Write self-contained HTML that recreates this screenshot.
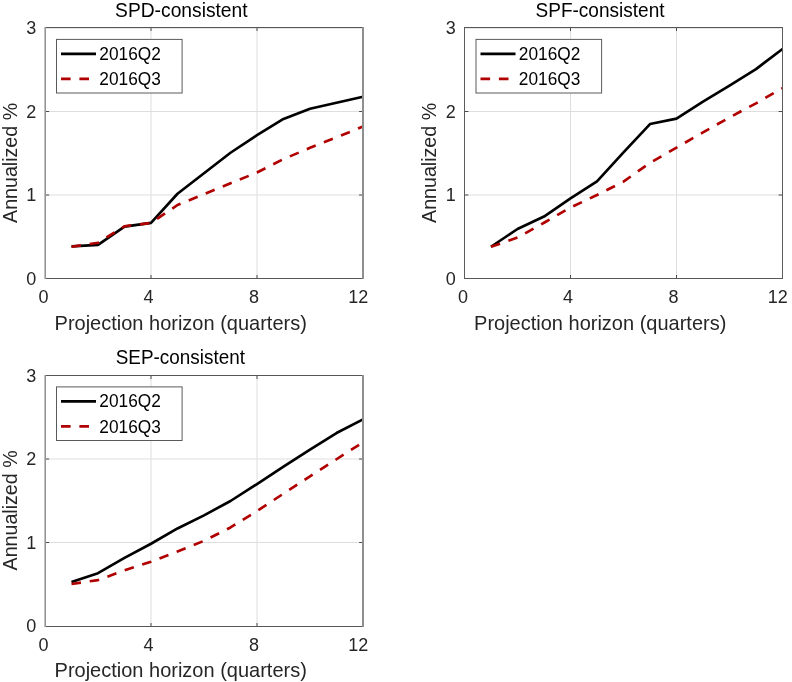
<!DOCTYPE html>
<html><head><meta charset="utf-8"><style>
html,body{margin:0;padding:0;background:#fff;width:792px;height:682px;overflow:hidden}
svg{display:block}
text{font-family:"Liberation Sans",Arial,sans-serif;fill:#262626}
.tk{font-size:18.0px}
.lb{font-size:19.8px}
.tt{font-size:20.3px;fill:#000}
.lg{font-size:18.2px;fill:#000}
</style></head><body>
<svg width="792" height="682" viewBox="0 0 792 682">
<rect width="792" height="682" fill="#fff"/>
<rect x="45" y="28" width="319" height="1" fill="#e6e6e6"/>
<path d="M151.00 28V278M257.00 28V278M45.00 195.00H363.00M45.00 111.50H363.00" stroke="#dedede" stroke-width="1" fill="none"/>
<polyline points="71.50,246.35 98.00,244.85 124.50,226.65 151.00,222.89 177.50,193.75 204.00,173.29 230.50,152.75 257.00,135.13 283.50,118.93 310.00,108.83 336.50,102.82 363.00,96.80" fill="none" stroke="#000" stroke-width="2.65" stroke-linejoin="round"/>
<polyline points="71.50,246.77 98.00,242.76 124.50,226.31 151.00,222.89 177.50,205.02 204.00,194.17 230.50,183.31 257.00,172.45 283.50,159.09 310.00,147.82 336.50,137.38 363.00,126.53" fill="none" stroke="#b00000" stroke-width="2.65" stroke-dasharray="9.6 8.8" stroke-linejoin="round"/>
<path d="M151.00 279v-4.0M151.00 27v4.0M257.00 279v-4.0M257.00 27v4.0M45.2 195.00h3.9M363.0 195.00h-3.9M45.2 111.50h3.9M363.0 111.50h-3.9" stroke="#4a4a4a" stroke-width="1" fill="none"/>
<rect x="44" y="27" width="320" height="1" fill="#575757"/>
<rect x="44" y="278" width="320" height="1" fill="#575757"/>
<rect x="44" y="27" width="1" height="252" fill="#c0c0c0"/>
<rect x="45" y="27" width="1" height="252" fill="#959595"/>
<rect x="362" y="27" width="2" height="252" fill="#8f8f8f"/>
<g transform="translate(0,0)">
<text x="43.6" y="303.0" class="tk" text-anchor="middle">0</text>
<text x="148.6" y="303.0" class="tk" text-anchor="middle">4</text>
<text x="253.9" y="303.0" class="tk" text-anchor="middle">8</text>
<text x="358.2" y="303.0" class="tk" text-anchor="middle">12</text>
<text x="36.2" y="284.90" class="tk" text-anchor="end">0</text>
<text x="36.2" y="201.05" class="tk" text-anchor="end">1</text>
<text x="36.2" y="117.85" class="tk" text-anchor="end">2</text>
<text x="36.2" y="34.15" class="tk" text-anchor="end">3</text>
<text x="180.7" y="329.5" class="lb" text-anchor="middle" textLength="252.3" lengthAdjust="spacingAndGlyphs">Projection horizon (quarters)</text>
<text transform="translate(16.7,162.9) rotate(-90)" class="lb" text-anchor="middle" textLength="120.0" lengthAdjust="spacingAndGlyphs">Annualized %</text>
<text x="181.35" y="16.8" class="tt" text-anchor="middle" textLength="132.5" lengthAdjust="spacingAndGlyphs">SPD-consistent</text>
<rect x="56.5" y="39.4" width="125.6" height="53.6" fill="#fff" stroke="#5a5a5a" stroke-width="1"/>
<path d="M61 53.8H96" stroke="#000" stroke-width="2.65"/>
<path d="M61 78.85H96" stroke="#b00000" stroke-width="2.65" stroke-dasharray="9.6 8.8"/>
<text x="99.3" y="59.7" class="lg" textLength="61.5" lengthAdjust="spacingAndGlyphs">2016Q2</text>
<text x="99.3" y="85.2" class="lg" textLength="61.5" lengthAdjust="spacingAndGlyphs">2016Q3</text>
</g>
<rect x="464" y="28" width="319" height="1" fill="#e6e6e6"/>
<path d="M570.50 28V278M676.50 28V278M464.50 195.00H782.50M464.50 111.50H782.50" stroke="#dedede" stroke-width="1" fill="none"/>
<polyline points="491.00,246.77 517.50,228.98 544.00,216.54 570.50,198.34 597.00,181.39 623.50,152.42 650.00,124.03 676.50,118.60 703.00,101.65 729.50,85.62 756.00,69.08 782.50,48.96" fill="none" stroke="#000" stroke-width="2.65" stroke-linejoin="round"/>
<polyline points="491.00,246.77 517.50,237.59 544.00,222.72 570.50,207.53 597.00,195.00 623.50,181.64 650.00,162.85 676.50,147.66 703.00,132.38 729.50,117.43 756.00,103.32 782.50,88.12" fill="none" stroke="#b00000" stroke-width="2.65" stroke-dasharray="9.6 8.8" stroke-linejoin="round"/>
<path d="M570.50 279v-4.0M570.50 27v4.0M676.50 279v-4.0M676.50 27v4.0M464.5 195.00h3.9M782.5 195.00h-3.9M464.5 111.50h3.9M782.5 111.50h-3.9" stroke="#4a4a4a" stroke-width="1" fill="none"/>
<rect x="464" y="27" width="319" height="1" fill="#575757"/>
<rect x="464" y="278" width="319" height="1" fill="#575757"/>
<rect x="464" y="27" width="1" height="252" fill="#5c5c5c"/>
<rect x="782" y="27" width="1" height="252" fill="#5c5c5c"/>
<g transform="translate(419.5,0)">
<text x="43.6" y="303.0" class="tk" text-anchor="middle">0</text>
<text x="148.6" y="303.0" class="tk" text-anchor="middle">4</text>
<text x="253.9" y="303.0" class="tk" text-anchor="middle">8</text>
<text x="358.2" y="303.0" class="tk" text-anchor="middle">12</text>
<text x="36.2" y="284.90" class="tk" text-anchor="end">0</text>
<text x="36.2" y="201.05" class="tk" text-anchor="end">1</text>
<text x="36.2" y="117.85" class="tk" text-anchor="end">2</text>
<text x="36.2" y="34.15" class="tk" text-anchor="end">3</text>
<text x="180.7" y="329.5" class="lb" text-anchor="middle" textLength="252.3" lengthAdjust="spacingAndGlyphs">Projection horizon (quarters)</text>
<text transform="translate(16.7,162.9) rotate(-90)" class="lb" text-anchor="middle" textLength="120.0" lengthAdjust="spacingAndGlyphs">Annualized %</text>
<text x="180.5" y="16.8" class="tt" text-anchor="middle" textLength="129.0" lengthAdjust="spacingAndGlyphs">SPF-consistent</text>
<rect x="56.5" y="39.4" width="125.6" height="53.6" fill="#fff" stroke="#5a5a5a" stroke-width="1"/>
<path d="M61 53.8H96" stroke="#000" stroke-width="2.65"/>
<path d="M61 78.85H96" stroke="#b00000" stroke-width="2.65" stroke-dasharray="9.6 8.8"/>
<text x="99.3" y="59.7" class="lg" textLength="61.5" lengthAdjust="spacingAndGlyphs">2016Q2</text>
<text x="99.3" y="85.2" class="lg" textLength="61.5" lengthAdjust="spacingAndGlyphs">2016Q3</text>
</g>
<path d="M151.00 376V626M257.00 376V626M45.00 542.50H363.00M45.00 459.00H363.00" stroke="#dedede" stroke-width="1" fill="none"/>
<polyline points="71.50,582.00 98.00,573.14 124.50,557.95 151.00,543.75 177.50,528.47 204.00,515.36 230.50,501.00 257.00,484.05 283.50,466.68 310.00,449.56 336.50,433.03 363.00,419.34" fill="none" stroke="#000" stroke-width="2.65" stroke-linejoin="round"/>
<polyline points="71.50,584.00 98.00,580.08 124.50,570.39 151.00,561.71 177.50,551.43 204.00,540.83 230.50,527.47 257.00,511.02 283.50,493.65 310.00,476.28 336.50,459.25 363.00,442.30" fill="none" stroke="#b00000" stroke-width="2.65" stroke-dasharray="9.6 8.8" stroke-linejoin="round"/>
<path d="M151.00 627v-4.0M151.00 375v4.0M257.00 627v-4.0M257.00 375v4.0M45.2 542.50h3.9M363.0 542.50h-3.9M45.2 459.00h3.9M363.0 459.00h-3.9" stroke="#4a4a4a" stroke-width="1" fill="none"/>
<rect x="44" y="375" width="320" height="1" fill="#575757"/>
<rect x="44" y="626" width="320" height="1" fill="#575757"/>
<rect x="44" y="375" width="1" height="252" fill="#c0c0c0"/>
<rect x="45" y="375" width="1" height="252" fill="#959595"/>
<rect x="362" y="375" width="2" height="252" fill="#8f8f8f"/>
<g transform="translate(0,347.5)">
<text x="43.6" y="303.0" class="tk" text-anchor="middle">0</text>
<text x="148.6" y="303.0" class="tk" text-anchor="middle">4</text>
<text x="253.9" y="303.0" class="tk" text-anchor="middle">8</text>
<text x="358.2" y="303.0" class="tk" text-anchor="middle">12</text>
<text x="36.2" y="284.90" class="tk" text-anchor="end">0</text>
<text x="36.2" y="201.05" class="tk" text-anchor="end">1</text>
<text x="36.2" y="117.85" class="tk" text-anchor="end">2</text>
<text x="36.2" y="34.15" class="tk" text-anchor="end">3</text>
<text x="180.7" y="329.5" class="lb" text-anchor="middle" textLength="252.3" lengthAdjust="spacingAndGlyphs">Projection horizon (quarters)</text>
<text transform="translate(16.7,162.9) rotate(-90)" class="lb" text-anchor="middle" textLength="120.0" lengthAdjust="spacingAndGlyphs">Annualized %</text>
<text x="180.35" y="16.8" class="tt" text-anchor="middle" textLength="129.2" lengthAdjust="spacingAndGlyphs">SEP-consistent</text>
<rect x="56.5" y="39.4" width="125.6" height="53.6" fill="#fff" stroke="#5a5a5a" stroke-width="1"/>
<path d="M61 53.8H96" stroke="#000" stroke-width="2.65"/>
<path d="M61 78.85H96" stroke="#b00000" stroke-width="2.65" stroke-dasharray="9.6 8.8"/>
<text x="99.3" y="59.7" class="lg" textLength="61.5" lengthAdjust="spacingAndGlyphs">2016Q2</text>
<text x="99.3" y="85.2" class="lg" textLength="61.5" lengthAdjust="spacingAndGlyphs">2016Q3</text>
</g>
</svg>
</body></html>
